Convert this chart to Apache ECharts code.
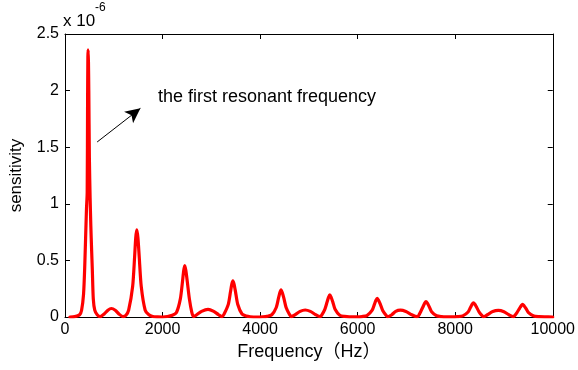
<!DOCTYPE html>
<html>
<head>
<meta charset="utf-8">
<script src="https://cdn.jsdelivr.net/npm/echarts@6/dist/echarts.min.js"></script>
<style>
html,body{margin:0;padding:0;background:#fff;}
#chart{width:578px;height:370px;}
</style>
</head>
<body>
<div id="chart"></div>
<script>
// Frequency (Hz)
const freq = [100,200,300,340,380,405,440,455,463,469,475,481,488,500,515,530,545,560,580,610,660,720,800,880,950,1030,1110,1190,1250,1305,1387,1427,1450,1472,1495,1522,1563,1644,1720,1800,1900,2000,2100,2200,2285,2365,2408,2434,2455,2478,2508,2550,2600,2635,2700,2800,2932,3050,3150,3224,3262,3348,3392,3420,3442,3466,3497,3541,3629,3717,3800,3950,4050,4140,4240,4331,4377,4406,4429,4454,4487,4533,4600,4640,4720,4820,4925,5030,5140,5231,5260,5327,5375,5405,5429,5455,5489,5537,5633,5730,5830,6000,6090,6190,6295,6345,6376,6401,6428,6464,6513,6590,6618,6700,6780,6878,6990,7110,7218,7250,7292,7343,7375,7401,7429,7465,7516,7618,7720,7820,7950,8040,8155,8264,8315,8348,8374,8403,8439,8491,8555,8578,8660,8770,8884,9000,9100,9190,9215,9266,9320,9354,9381,9411,9449,9503,9611,9720,9830,10000];
// sensitivity (x 1e-6)
const sensitivity = [0.0,0.003,0.02,0.06,0.2,0.45,0.95,1.1,1.9,2.3,2.36,2.25,2.0,1.4,1.05,0.8,0.6,0.42,0.16,0.06,0.02,0.003,0.025,0.06,0.075,0.06,0.025,0.003,0.015,0.06,0.27,0.53,0.7,0.77,0.7,0.53,0.27,0.06,0.02,0.005,0.001,0.0,0.004,0.015,0.04,0.16,0.31,0.41,0.455,0.41,0.31,0.16,0.04,0.003,0.02,0.05,0.068,0.05,0.02,0.003,0.026,0.112,0.22,0.29,0.32,0.29,0.22,0.112,0.026,0.008,0.002,0.0,0.002,0.006,0.02,0.084,0.166,0.216,0.24,0.216,0.166,0.084,0.025,0.003,0.02,0.05,0.062,0.05,0.02,0.003,0.015,0.068,0.135,0.176,0.195,0.176,0.135,0.068,0.016,0.005,0.001,0.001,0.004,0.013,0.058,0.114,0.149,0.165,0.149,0.114,0.058,0.012,0.002,0.02,0.05,0.06,0.048,0.02,0.003,0.012,0.047,0.093,0.122,0.135,0.122,0.093,0.047,0.011,0.003,0.001,0.001,0.003,0.01,0.044,0.086,0.113,0.125,0.113,0.086,0.044,0.01,0.002,0.02,0.048,0.058,0.046,0.02,0.003,0.01,0.039,0.077,0.1,0.112,0.1,0.077,0.039,0.009,0.003,0.001,0.0];
// axis settings
const xMin = 0, xMax = 10000, xStep = 2000;
const yMin = 0, yMax = 2.5, yStep = 0.5;
// annotation arrow (data coords) and text
const arrowFrom = [659, 1.546];
const arrowTo = [1546, 1.843];
const annotationText = 'the first resonant frequency';
const xTitle = 'Frequency（Hz）';
const yTitle = 'sensitivity';

const FONT = '"Liberation Sans", Arial, "Noto Sans CJK SC", sans-serif';
const chart = echarts.init(document.getElementById('chart'), null, {renderer: 'canvas'});

const tickCommon = {show: true, inside: true, length: 5, lineStyle: {color: '#000', width: 1}};
const lineCommon = {show: true, onZero: false, lineStyle: {color: '#000', width: 1}};

const option = {
  animation: false,
  backgroundColor: '#fff',
  grid: {left: 63, right: 25, top: 34, bottom: 53, containLabel: false},
  xAxis: [
    {
      type: 'value', min: xMin, max: xMax, interval: xStep, position: 'bottom',
      axisLine: lineCommon, axisTick: tickCommon, splitLine: {show: false},
      axisLabel: {color: '#000', fontSize: 16, fontFamily: FONT, margin: 5, formatter: v => String(v)},
      name: xTitle, nameLocation: 'middle', nameGap: 23,
      nameTextStyle: {color: '#000', fontSize: 18, fontFamily: FONT}
    },
    {
      type: 'value', min: xMin, max: xMax, interval: xStep, position: 'top',
      axisLine: lineCommon, axisTick: tickCommon, splitLine: {show: false},
      axisLabel: {show: false}
    }
  ],
  yAxis: [
    {
      type: 'value', min: yMin, max: yMax, interval: yStep, position: 'left',
      axisLine: lineCommon, axisTick: tickCommon, splitLine: {show: false},
      axisLabel: {color: '#000', fontSize: 16, fontFamily: FONT, margin: 6, formatter: v => String(v)},
      name: yTitle, nameLocation: 'middle', nameGap: 40, nameRotate: 90,
      nameTextStyle: {color: '#000', fontSize: 17, fontFamily: FONT}
    },
    {
      type: 'value', min: yMin, max: yMax, interval: yStep, position: 'right',
      axisLine: lineCommon, axisTick: tickCommon, splitLine: {show: false},
      axisLabel: {show: false}
    }
  ],
  series: [
    {
      type: 'line',
      xAxisIndex: 0, yAxisIndex: 0,
      data: freq.map((f, i) => [f, sensitivity[i]]),
      showSymbol: false,
      smooth: 0.25,
      lineStyle: {color: '#ff0000', width: 3.2, join: 'round', cap: 'round'},
      itemStyle: {color: '#ff0000'},
      silent: true,
      markLine: {
        silent: true,
        symbol: ['none', 'arrow'],
        symbolSize: [11, 15],
        label: {show: false},
        lineStyle: {color: '#000', width: 1, type: 'solid'},
        itemStyle: {color: '#000'},
        emphasis: {disabled: true},
        data: [[{coord: arrowFrom}, {coord: arrowTo}]]
      }
    }
  ],
  graphic: [
    {type: 'text', left: 63, top: 13, style: {text: 'x 10', fill: '#000', font: '17px ' + FONT}},
    {type: 'text', left: 95, top: 2, style: {text: '-6', fill: '#000', font: '12px ' + FONT}},
    {type: 'text', left: 158, top: 88, style: {text: annotationText, fill: '#000', font: '18px ' + FONT}}
  ]
};
chart.setOption(option);
</script>
</body>
</html>
